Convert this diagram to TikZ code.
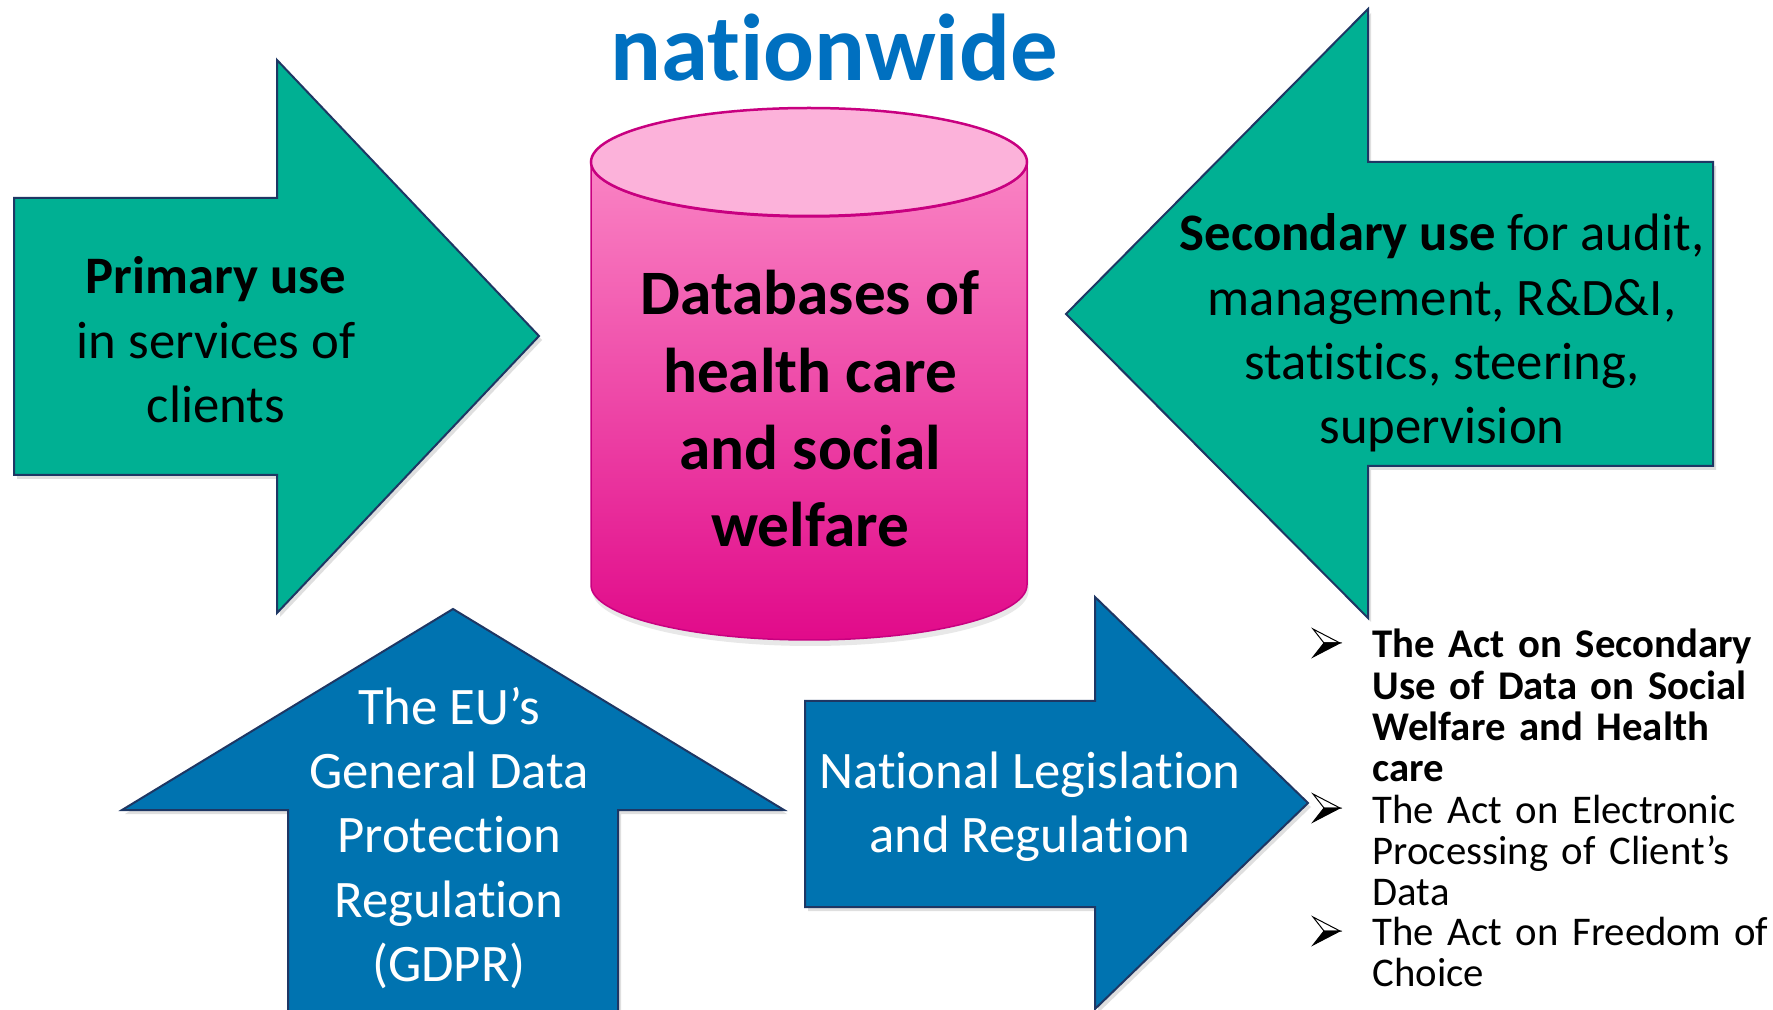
\documentclass[tikz,border=0pt]{standalone}
\usepackage{fontspec}
\setmainfont{Carlito}[RawFeature={-liga;-clig;-calt;-dlig;-rlig;-ccmp}]
\usepackage{tikz}
\usetikzlibrary{shadows}

\definecolor{usegreen}{RGB}{0,176,147}
\definecolor{lawblue}{RGB}{0,115,176}
\definecolor{arrowedge}{RGB}{30,55,100}
\definecolor{titleblue}{RGB}{0,112,192}
\definecolor{dbtop}{RGB}{252,178,218}
\definecolor{dbupper}{RGB}{250,132,196}
\definecolor{dblower}{RGB}{225,10,138}
\definecolor{dbedge}{RGB}{200,0,128}

\tikzset{
  bigarrow/.style={draw=arrowedge,line width=0.2mm,
    drop shadow={shadow xshift=0.3mm,shadow yshift=-0.4mm,opacity=0.25}},
  usetext/.style={align=center,font=\fontsize{15pt}{18.3pt}\selectfont},
  lawtext/.style={usetext,text=white},
  acttext/.style={anchor=base west,inner sep=0pt,text width=42mm,align=left,
    font=\fontsize{11.6pt}{11.7pt}\selectfont},
}

\begin{document}
\begin{tikzpicture}[x=0.1mm,y=-0.1mm]
  \fill[white] (0,0) rectangle (1773,1010);
  \useasboundingbox (0,0) rectangle (1773,1010);

  % green arrows: primary and secondary use
  \filldraw[bigarrow,fill=usegreen] (14,198) -- (277,198) -- (277,60) -- (539,336)
    -- (277,613) -- (277,475) -- (14,475) -- cycle;
  \filldraw[bigarrow,fill=usegreen] (1713,162) -- (1368,162) -- (1368,9) -- (1066,314)
    -- (1368,618) -- (1368,466) -- (1713,466) -- cycle;

  % blue arrows: regulation
  \filldraw[bigarrow,fill=lawblue] (288,1020) -- (288,810) -- (122,810) -- (453,609)
    -- (784,810) -- (618,810) -- (618,1020);
  \filldraw[bigarrow,fill=lawblue] (805,701) -- (1095,701) -- (1095,597) -- (1308,803)
    -- (1095,1009) -- (1095,907) -- (805,907) -- cycle;

  % the database
  \path[draw=dbedge,line width=0.15mm,top color=dbupper,bottom color=dblower,
    drop shadow={shadow xshift=0.15mm,shadow yshift=-0.6mm,opacity=0.18}]
    (591,162) -- (591,585) arc (180:0:218 and 55) -- (1027,162) arc (0:180:218 and 55) -- cycle;
  \filldraw[fill=dbtop,draw=dbedge,line width=0.25mm] (809,162) ellipse (218 and 54);

  \node[font=\fontsize{18pt}{22pt}\selectfont\bfseries,align=center] (db) at (810,409)
    {Databases of\\health care\\and social\\welfare};
  \node[anchor=base,text=titleblue,font=\fontsize{27pt}{32pt}\selectfont\bfseries] (title)
    at (834,81) {nationwide};

  \node[usetext] (primary) at (216,340) {\textbf{Primary use}\\in services of\\clients};
  \node[usetext] (secondary) at (1442,333)
    {\textbf{Secondary use} for audit,\\management, R\&D\&I,\\statistics, steering,\\supervision};
  \node[lawtext] (gdpr) at (449,838) {The EU’s\\General Data\\Protection\\Regulation\\(GDPR)};
  \node[lawtext] (national) at (1030,807) {National Legislation\\and Regulation};

  % list of acts
  \node[acttext,font=\fontsize{11.6pt}{11.7pt}\selectfont\bfseries] (act1) at (1372,658)
    {The Act on Secondary\\Use of Data on Social\\Welfare and Health\\care};
  \node[acttext] (act2) at (1372,823) {The Act on Electronic\\Processing of Client’s\\Data};
  \node[acttext] (act3) at (1372,945) {The Act on Freedom of\\Choice};

  \foreach \y in {643,808,931} {
    \filldraw[fill=white,draw=black,line width=0.1mm] (1313,\y-14) -- (1340,\y) -- (1324,\y) -- cycle;
    \filldraw[black,line width=0.1mm] (1324,\y) -- (1340,\y) -- (1313,\y+14) -- cycle;
  }
\end{tikzpicture}
\end{document}
